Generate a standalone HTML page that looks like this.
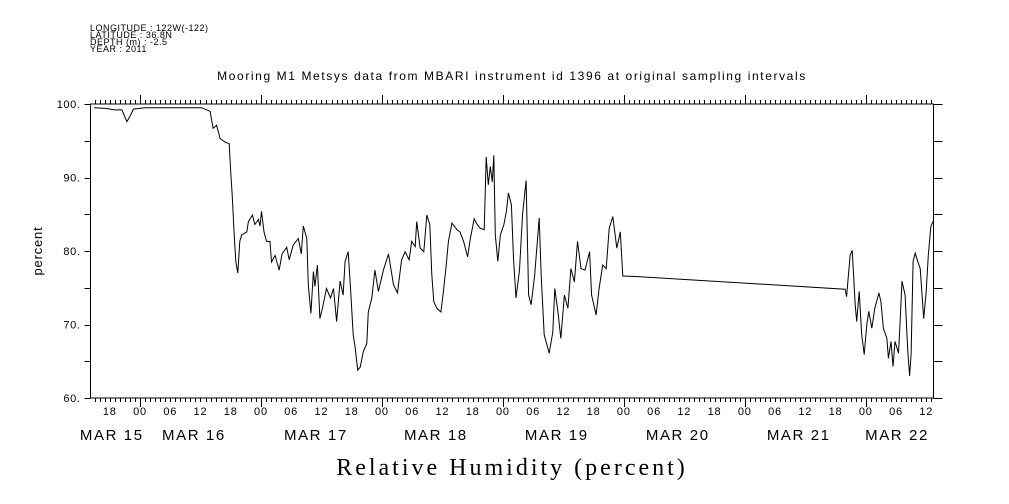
<!DOCTYPE html>
<html><head><meta charset="utf-8"><style>
body{margin:0;background:#fff;}
svg{display:block;font-family:"Liberation Sans",sans-serif;}
</style></head><body>
<svg id="chart" width="1009" height="504" viewBox="0 0 1009 504" xmlns="http://www.w3.org/2000/svg">
<rect width="1009" height="504" fill="#fff"/>
<g font-size="9" fill="#000" letter-spacing="0.5">
<text x="90" y="31">LONGITUDE : 122W(-122)</text>
<text x="90" y="38">LATITUDE : 36.8N</text>
<text x="90" y="45">DEPTH (m) : -2.5</text>
<text x="90" y="52">YEAR : 2011</text>
</g>
<text x="512" y="80" text-anchor="middle" font-size="12" letter-spacing="1.6">Mooring M1 Metsys data from MBARI instrument id 1396 at original sampling intervals</text>
<text x="42" y="251" text-anchor="middle" font-size="13" letter-spacing="0.8" transform="rotate(-90 42 251)">percent</text>
<text x="512" y="475" text-anchor="middle" font-size="24" letter-spacing="3" font-family="Liberation Serif, serif">Relative Humidity (percent)</text>
<g id="axes"></g>
<g id="series"></g>
</svg>
<script>
const yTicks=[60,65,70,75,80,85,90,95,100];
const yLabels=[60,70,80,90,100];
const hourTicks=[-6,0,6,12,18,24,30,36,42,48,54,60,66,72,78,84,90,96,102,108,114,120,126,132,138,144,150,156];
const dayNames=["MAR 15","MAR 16","MAR 17","MAR 18","MAR 19","MAR 20","MAR 21","MAR 22"];
const dayPos=[-5.6,10.7,34.9,58.7,82.7,106.7,130.7,150.2];
// hours since 2011-03-16 00:00
const times=[-9.1,-6.9,-5,-3.6,-2.6,-2,-1.3,1,12.2,13.9,14.5,15.2,15.9,16.9,17.7,18,18.3,18.7,19,19.4,19.8,20.2,21.2,21.5,22.3,22.8,23.5,23.8,24.1,24.6,25.1,25.8,26.1,26.8,27.6,28.2,29.1,29.6,30.4,31.4,32,32.4,33.1,33.4,33.9,34.4,34.7,35.2,35.7,36.2,37,37.8,38.4,39,39.7,40.3,40.7,41.3,41.8,42.3,42.7,43.2,43.7,44.3,45,45.3,46,46.6,47.3,48.3,49.3,50.3,51.1,51.9,52.6,53.4,53.9,54.6,54.9,55.6,56.3,56.9,57.5,57.9,58.3,58.9,59.7,60.2,60.7,61.2,61.9,62.9,63.5,64.2,65,65.5,66.3,66.9,67.5,68.3,68.7,69.1,69.5,69.9,70.2,70.5,71,71.5,72.2,72.7,73.1,73.7,74.1,74.6,75.3,75.9,76.6,77.1,77.6,78.3,79.2,79.6,80.2,81.2,81.9,82.3,83,83.5,84.2,84.9,85.5,86.2,86.8,87.5,88.3,89.2,89.6,90.5,91.1,91.8,92.5,93.1,93.8,94.6,95.3,95.8,99.2,139.9,140.2,140.9,141.3,141.9,142.2,142.7,143.2,143.7,144.2,144.6,145.2,145.8,146.6,147,147.5,148.2,148.5,149,149.4,149.8,150.5,150.8,151.2,151.8,152.3,152.7,153,153.4,153.8,154.3,154.8,155.5,156,156.4,156.9,157.3];
const values=[99.5,99.4,99.2,99.2,97.6,98.3,99.3,99.5,99.5,99.0,96.7,97.1,95.3,94.8,94.6,90.8,87.6,82.2,78.6,77,81.3,82.2,82.6,84,84.9,83.6,84.3,83.4,85.4,82.6,81.3,81.3,78.5,79.4,77.4,79.6,80.5,78.8,80.8,81.7,79.6,83.4,81.7,75.4,71.5,77.2,75.2,78.1,70.8,72.2,74.9,73.6,74.9,70.4,75.9,74,78.6,79.9,74.5,68.6,66.8,63.8,64.2,66.3,67.4,71.7,73.6,77.4,74.5,77.4,79.6,75.4,74.3,78.8,79.9,78.8,81.3,80.6,84,80.4,79.9,84.9,83.6,76.8,73.1,72.2,71.7,74.5,77.6,81.3,83.8,82.9,82.6,81.3,79.2,81.5,84.4,83.6,83.1,82.9,92.8,89,91.5,89.4,93,82.2,78.6,82.2,83.6,85.4,87.9,86.3,79,73.6,77.4,84.9,89.6,74,72.7,76.6,84.5,76.6,68.6,66.1,69,74.9,71.3,68.1,74,72.2,77.6,75.8,81.3,77.6,77.4,79.9,74,71.3,74.9,78.1,77.6,83.1,84.7,80.4,82.6,76.6,76.5,74.8,73.8,79.4,80.1,72.7,70.4,74.5,68.6,65.9,70,71.8,69.5,72.2,74.3,73.1,69.5,68.1,65.4,67.7,64.3,67.7,66.1,70,75.9,74,66.8,63,65.9,78.6,79.7,78.6,77.6,70.8,74.5,79.4,83.3,84];

const L=90.5,R=933.5,T=104,B=398;
const x0=140,pxPerHour=5.04;
const xs=t=>x0+t*pxPerHour;
const ys=v=>T+(100-v)*(B-T)/40;
const NS="http://www.w3.org/2000/svg";
const axes=document.getElementById('axes');
function mk(tag,attrs,parent){const e=document.createElementNS(NS,tag);for(const k in attrs)e.setAttribute(k,attrs[k]);parent.appendChild(e);return e;}
const frame=mk('rect',{x:L,y:T,width:R-L,height:B-T,fill:'none',stroke:'#000','stroke-width':1},axes);


yTicks.forEach(v=>{
 const y=Math.round(ys(v))+0.5;
 const a=mk('line',{x1:L-6,x2:L,y1:y,y2:y,stroke:'#000'},axes);
 
 
 const b=mk('line',{x1:R,x2:R+9,y1:y,y2:y,stroke:'#000'},axes);
 
 
});
yLabels.forEach(v=>{
 const t=mk('text',{x:L-10,y:ys(v)+4,'text-anchor':'end','font-size':11,'letter-spacing':0.6},axes);
 t.textContent=v+'.';
 
 
});
const tStart=Math.ceil((L-x0)/pxPerHour), tEnd=Math.floor((R-x0)/pxPerHour);
for(let h=tStart;h<=tEnd;h++){
 const x=Math.round(xs(h))+0.5;
 const len=(h%24===0)?9:4;
 const a=mk('line',{x1:x,x2:x,y1:T-len,y2:T,stroke:'#000'},axes);
 
 
 const b=mk('line',{x1:x,x2:x,y1:B,y2:B+len,stroke:'#000'},axes);
 
 
}
hourTicks.forEach(h=>{
 const t=mk('text',{x:xs(h),y:B+17,'text-anchor':'middle','font-size':11,'letter-spacing':0.8},axes);
 t.textContent=String(((h%24)+24)%24).padStart(2,'0');
 
 
});
dayNames.forEach((d,i)=>{
 const t=mk('text',{x:xs(dayPos[i]),y:B+42,'text-anchor':'middle','font-size':15,'letter-spacing':1.6},axes);
 t.textContent=d;
 
 
});
const pts=times.map((t,i)=>xs(t).toFixed(1)+','+ys(values[i]).toFixed(1)).join(' ');
const line=mk('polyline',{points:pts,fill:'none',stroke:'#000','stroke-width':1},document.getElementById('series'));


</script>
</body></html>
